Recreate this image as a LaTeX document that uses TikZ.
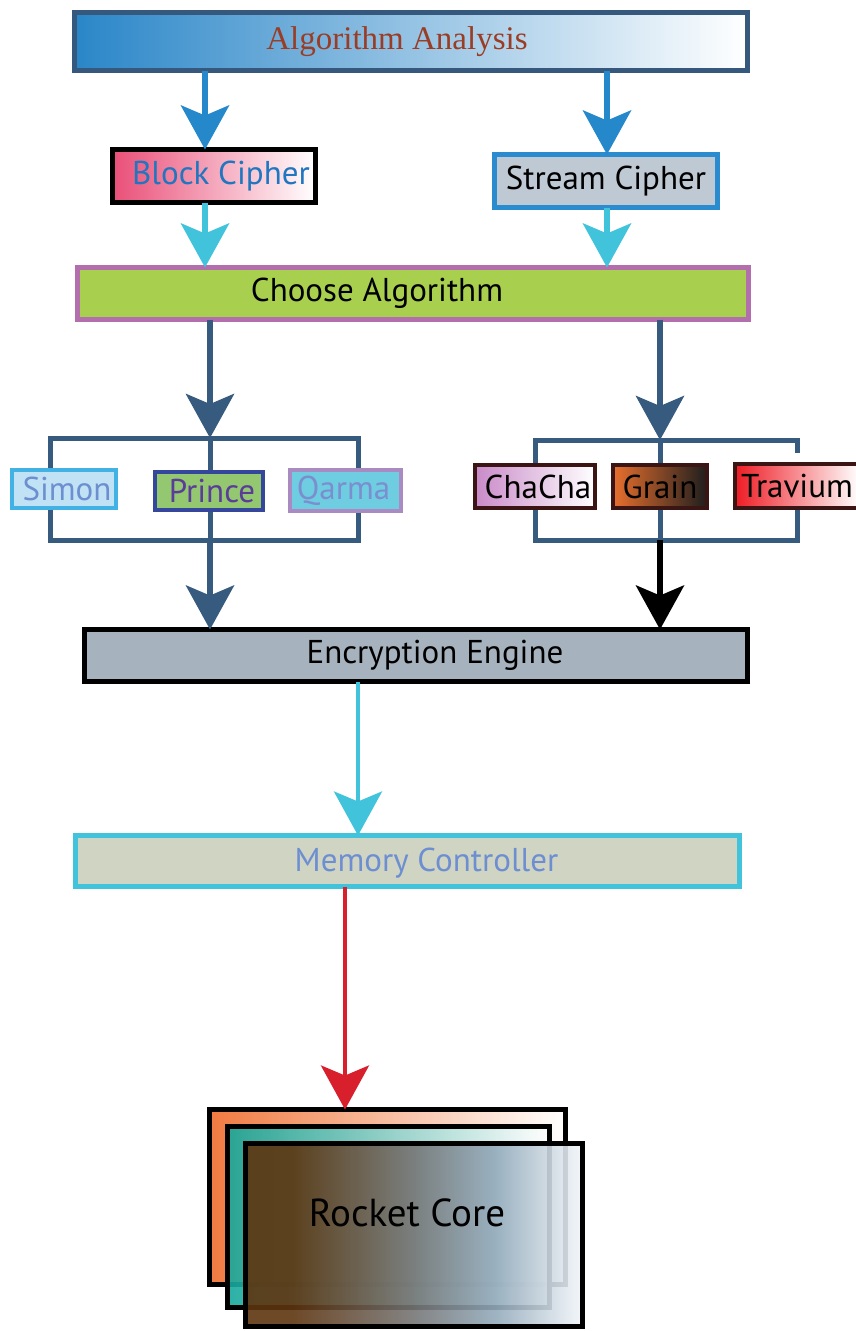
\documentclass[tikz,border=0pt]{standalone}
\usepackage{fontspec}
\setmainfont{PT Sans}
\newfontfamily\serifface{Liberation Serif}
\usetikzlibrary{arrows.meta}

\definecolor{topBorder}{HTML}{36587C}
\definecolor{topLeft}{HTML}{2A86C8}
\definecolor{algText}{HTML}{9B3C24}
\definecolor{blueArrow}{HTML}{2588CB}
\definecolor{cyanArrow}{HTML}{40C3DB}
\definecolor{blockLeft}{HTML}{EA4F78}
\definecolor{blockText}{HTML}{2176C0}
\definecolor{streamBorder}{HTML}{2A8CCF}
\definecolor{streamFill}{HTML}{BEC9D4}
\definecolor{chooseBorder}{HTML}{B36EAE}
\definecolor{chooseFill}{HTML}{A9CF4E}
\definecolor{darkBlue}{HTML}{375A7F}
\definecolor{simonBorder}{HTML}{42B1E3}
\definecolor{simonFill}{HTML}{C1E1F5}
\definecolor{simonText}{HTML}{6C8FD0}
\definecolor{princeBorder}{HTML}{34479C}
\definecolor{princeFill}{HTML}{93C871}
\definecolor{princeText}{HTML}{5B3D99}
\definecolor{qarmaBorder}{HTML}{A98BC1}
\definecolor{qarmaFill}{HTML}{6ECDE0}
\definecolor{qarmaText}{HTML}{7B8FD0}
\definecolor{brownBorder}{HTML}{3B1414}
\definecolor{chachaLeft}{HTML}{C98AC8}
\definecolor{grainLeft}{HTML}{E86F2D}
\definecolor{grainRight}{HTML}{1E1E1E}
\definecolor{traviumLeft}{HTML}{EE1C24}
\definecolor{encFill}{HTML}{A6B2BD}
\definecolor{memFill}{HTML}{D0D4C2}
\definecolor{memText}{HTML}{6D8FD2}
\definecolor{redArrow}{HTML}{D8202C}
\definecolor{coreOrange}{HTML}{EF6C2C}
\definecolor{coreTeal}{HTML}{14A89C}
\definecolor{coreBrown}{HTML}{5E3510}
\definecolor{coreGray}{HTML}{767676}
\definecolor{coreBlue}{HTML}{93AABB}
\definecolor{coreLight}{HTML}{F2F6FA}

% front core panel: brown on the left, grey in the middle, pale blue on the right
\pgfdeclarehorizontalshading{coreshade}{100bp}{
  color(0bp)=(coreBrown); color(25bp)=(coreBrown); color(32bp)=(coreBrown);
  color(50bp)=(coreGray); color(62bp)=(coreBlue); color(75bp)=(coreLight); color(100bp)=(coreLight)}

\tikzset{
  box/.style={draw, line width=5pt, inner sep=0pt, outer sep=0pt, rectangle},
  smallbox/.style={box, line width=4pt, font=\fontsize{33}{38}\selectfont},
  bigtext/.style={font=\fontsize{33}{38}\selectfont},
  arr/.style={line width=6pt, -{Stealth[length=44pt, width=48pt, inset=10pt]}},
  thinarr/.style={line width=4pt, -{Stealth[length=44pt, width=48pt, inset=10pt]}},
  bracket/.style={draw=darkBlue, line width=5pt, line join=miter},
  core/.style={rectangle, draw=black, line width=5pt, inner sep=0pt, outer sep=0pt, fill opacity=0.9, draw opacity=1},
}

\begin{document}
\begin{tikzpicture}[x=1pt, y=-1pt]
\useasboundingbox (0,0) rectangle (856,1331);

% column guides for the connectors
\coordinate (cL) at (205,0);
\coordinate (cR) at (607,0);
\coordinate (dL) at (210,0);
\coordinate (dR) at (660,0);
\coordinate (eM) at (358,0);
\coordinate (fM) at (345,0);

% brackets around the cipher choices
\coordinate (lTop) at (210,438);
\coordinate (lBot) at (210,540);
\coordinate (rTop) at (660,440);
\coordinate (rBot) at (660,540);
\draw[bracket] (50,438) rectangle (358,540);
\draw[bracket] (lTop) -- (lBot);
\draw[bracket] (797,453) -- (797,440) -- (535,440) -- (535,540) -- (797,540) -- (797,505);
\draw[bracket] (rTop) -- (rBot);

% top level
\node[box, draw=topBorder, left color=topLeft, right color=white,
      minimum width=673pt, minimum height=58pt,
      label={[font=\serifface\fontsize{33}{38}\selectfont, text=algText, xshift=-14pt]center:Algorithm Analysis}]
      (top) at (411,41.5) {};

\node[box, draw=black, left color=blockLeft, right color=white, text=blockText, bigtext,
      minimum width=203pt, minimum height=53pt] (block) at (214,176) {\hspace*{14pt}Block Cipher};
\node[box, draw=streamBorder, fill=streamFill, text=black, bigtext,
      minimum width=223pt, minimum height=53pt] (stream) at (606,181) {Stream Cipher};

\node[box, draw=chooseBorder, fill=chooseFill,
      minimum width=671pt, minimum height=52pt,
      label={[bigtext, xshift=-36pt]center:Choose Algorithm}] (choose) at (413,293.5) {};

% block ciphers
\node[smallbox, draw=simonBorder, fill=simonFill, text=simonText,
      minimum width=104pt, minimum height=38pt] (simon) at (64,489) {\hspace*{6pt}Simon};
\node[smallbox, draw=princeBorder, fill=princeFill, text=princeText,
      minimum width=108pt, minimum height=38pt] (prince) at (209,491) {\hspace*{6pt}Prince};
\node[smallbox, draw=qarmaBorder, fill=qarmaFill, text=qarmaText,
      minimum width=111pt, minimum height=41pt] (qarma) at (345.5,490.5) {Qarma\hspace*{4pt}};

% stream ciphers
\node[smallbox, draw=brownBorder, left color=chachaLeft, right color=white, text=black,
      minimum width=120pt, minimum height=43pt] (chacha) at (535,486.5) {\hspace*{6pt}ChaCha};
\node[smallbox, draw=brownBorder, left color=grainLeft, right color=grainRight, text=black,
      minimum width=94pt, minimum height=43pt] (grain) at (660,486.5) {Grain};
\node[smallbox, draw=brownBorder, left color=traviumLeft, right color=white, text=black,
      minimum width=124pt, minimum height=44pt] (travium) at (797,486) {Travium};

\node[box, draw=black, fill=encFill,
      minimum width=663pt, minimum height=52pt,
      label={[bigtext, xshift=19pt]center:Encryption Engine}] (enc) at (416,655.5) {};

\node[box, draw=cyanArrow, fill=memFill,
      minimum width=664pt, minimum height=51pt,
      label={[bigtext, text=memText, xshift=19pt, yshift=-2pt]center:Memory Controller}] (mem) at (407.5,861) {};

% stacked cores
\node[core, left color=coreOrange, right color=white,
      minimum width=356pt, minimum height=175pt] (coreBack) at (387.5,1197) {};
\node[core, left color=coreTeal, right color=white,
      minimum width=322pt, minimum height=181pt] (coreMid) at (388.5,1217) {};
\node[core, shading=coreshade,
      minimum width=337pt, minimum height=183pt,
      label={[font=\fontsize{39}{44}\selectfont, xshift=-7pt, yshift=22pt]center:Rocket Core}] (core) at (414,1235) {};

% connectors
\draw[arr, blueArrow] (top.south -| cL) -- (block.north -| cL);
\draw[arr, blueArrow] (top.south -| cR) -- (stream.north -| cR);
\draw[arr, cyanArrow] (block.south -| cL) -- (choose.north -| cL);
\draw[arr, cyanArrow] (stream.south -| cR) -- (choose.north -| cR);
\draw[arr, darkBlue] (choose.south -| dL) -- (lTop);
\draw[arr, darkBlue] (choose.south -| dR) -- (rTop);
\draw[arr, darkBlue] (lBot) -- (enc.north -| dL);
\draw[arr, black] (rBot) -- (enc.north -| dR);
\draw[thinarr, cyanArrow] (enc.south -| eM) -- (mem.north -| eM);
\draw[thinarr, redArrow] (mem.south -| fM) -- (coreBack.north -| fM);
\end{tikzpicture}
\end{document}
